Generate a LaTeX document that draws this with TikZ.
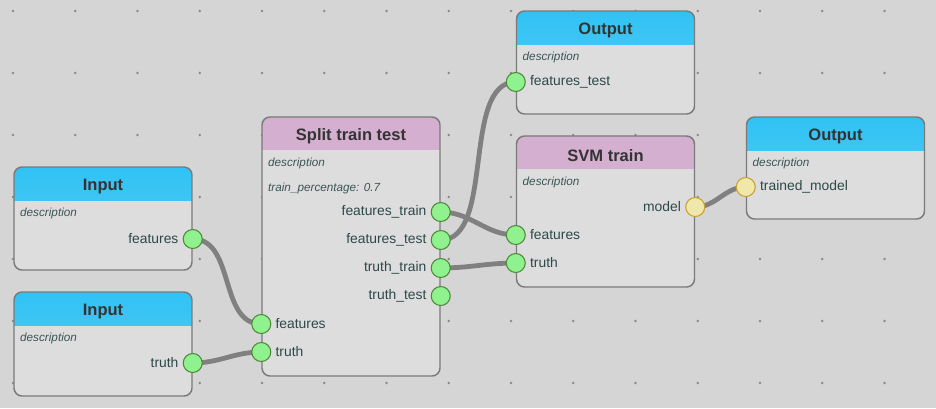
\documentclass[tikz,border=0pt]{standalone}
\usepackage{fontspec}
\setmainfont{Liberation Sans}
\usetikzlibrary{positioning,calc}
\definecolor{canvas}{HTML}{D5D5D5}
\definecolor{gridDot}{HTML}{8A8A8A}
\definecolor{boxFill}{HTML}{DDDDDD}
\definecolor{boxLine}{HTML}{7A7A7A}
\definecolor{blueTop}{HTML}{30C2F4}
\definecolor{blueBot}{HTML}{58D0F6}
\definecolor{mauve}{HTML}{D4AFD0}
\definecolor{titleTxt}{HTML}{333333}
\definecolor{portTxt}{HTML}{2E4848}
\definecolor{descTxt}{HTML}{3D5555}
\definecolor{greenFill}{HTML}{90F28E}
\definecolor{greenLine}{HTML}{4E8A3A}
\definecolor{yelFill}{HTML}{F0E8AA}
\definecolor{yelLine}{HTML}{C9A030}
\definecolor{wireC}{HTML}{808080}
\pgfdeclarelayer{grid}
\pgfdeclarelayer{wires}
\pgfsetlayers{grid,wires,main}

\begin{document}
\begin{tikzpicture}[x=0.75pt, y=-0.75pt, font=\fontsize{10.4}{12}\selectfont]
\tikzset{
  box/.style={draw=boxLine, line width=1.1pt, rounded corners=6pt, fill=boxFill, inner sep=0pt, minimum width=133.5pt},
  bluehead/.style={path picture={\shade[sharp corners, top color=blueTop, bottom color=blueBot] (path picture bounding box.north west) rectangle ([yshift=-24.75pt]path picture bounding box.north east);}},
  mauvehead/.style={path picture={\fill[sharp corners, mauve] (path picture bounding box.north west) rectangle ([yshift=-24.75pt]path picture bounding box.north east);}},
  title/.style={font=\fontsize{12.4}{14}\selectfont\bfseries, text=titleTxt, inner sep=0pt},
  desc/.style={font=\fontsize{8.8}{10}\selectfont\itshape, text=descTxt, anchor=west, inner sep=0pt},
  port/.style={circle, minimum size=14.25pt, inner sep=0pt, line width=0.8pt},
  gport/.style={port, draw=greenLine, fill=greenFill},
  yport/.style={port, draw=yelLine, fill=yelFill},
  plabel/.style={text=portTxt, inner sep=0pt},
  wire/.style={draw=wireC, line width=3.6pt}
}
% canvas and dotted grid
\begin{pgfonlayer}{grid}
\fill[canvas] (0,0) rectangle (936,408);
\foreach \i in {0,...,14}
  \foreach \j in {0,...,6}
    \fill[gridDot] (13+62.25*\i, 11+62*\j) circle (1pt);
\end{pgfonlayer}
\useasboundingbox (0,0) rectangle (936,408);

% boxes
\node[box, bluehead, minimum height=77.25pt] (in1) at (103,218.5) {};
\node[box, bluehead, minimum height=78pt] (in2) at (103,344) {};
\node[box, mauvehead, minimum height=194.25pt] (split) at (351,246.5) {};
\node[box, bluehead, minimum height=77.25pt] (out1) at (605.5,62.5) {};
\node[box, mauvehead, minimum height=113.25pt] (svm) at (605.5,211.5) {};
\node[box, bluehead, minimum height=76.5pt] (out2) at (835.5,168) {};

% titles
\foreach \n/\t in {in1/Input, in2/Input, split/Split train test, out1/Output, svm/SVM train, out2/Output}
  \node[title] (\n-title) at ([yshift=-15pt]\n.north) {\t};

% descriptions
\foreach \n in {in1,in2,split,out1,svm,out2}
  \node[desc] (\n-desc) at ([xshift=5pt,yshift=-35.25pt]\n.north west) {description};
\node[desc] (split-pct) at ([xshift=5pt,yshift=-54pt]split.north west) {train\_percentage: 0.7};

% ports
\node[gport] (in1-f) at (in1.east |- 0,239) {};
\node[plabel, left=3pt of in1-f] (in1-fl) {features};
\node[gport] (in2-t) at (in2.east |- 0,363) {};
\node[plabel, left=3pt of in2-t] (in2-tl) {truth};

\node[gport] (split-f) at (split.west |- 0,324) {};
\node[plabel, right=3pt of split-f] (split-fl) {features};
\node[gport] (split-t) at (split.west |- 0,352) {};
\node[plabel, right=3pt of split-t] (split-tl) {truth};
\node[gport] (split-ftr) at (split.east |- 0,212) {};
\node[plabel, left=3pt of split-ftr] (split-ftrl) {features\_train};
\node[gport] (split-fte) at (split.east |- 0,240) {};
\node[plabel, left=3pt of split-fte] (split-ftel) {features\_test};
\node[gport] (split-ttr) at (split.east |- 0,268) {};
\node[plabel, left=3pt of split-ttr] (split-ttrl) {truth\_train};
\node[gport] (split-tte) at (split.east |- 0,296) {};
\node[plabel, left=3pt of split-tte] (split-ttel) {truth\_test};

\node[gport] (out1-f) at (out1.west |- 0,82) {};
\node[plabel, right=3pt of out1-f] (out1-fl) {features\_test};

\node[gport] (svm-f) at (svm.west |- 0,235) {};
\node[plabel, right=3pt of svm-f] (svm-fl) {features};
\node[gport] (svm-t) at (svm.west |- 0,263) {};
\node[plabel, right=3pt of svm-t] (svm-tl) {truth};
\node[yport] (svm-m) at (svm.east |- 0,207) {};
\node[plabel, left=3pt of svm-m] (svm-ml) {model};

\node[yport] (out2-m) at (out2.west |- 0,187) {};
\node[plabel, right=3pt of out2-m] (out2-ml) {trained\_model};

% wires
\begin{pgfonlayer}{wires}
\draw[wire] (in1-f.center) to[out=0, in=180] (split-f.center);
\draw[wire] (in2-t.center) to[out=0, in=180] (split-t.center);
\draw[wire] (split-ftr.center) to[out=0, in=180] (svm-f.center);
\draw[wire] (split-fte.center) to[out=0, in=180, looseness=0.8] (out1-f.center);
\draw[wire] (split-ttr.center) to[out=0, in=180] (svm-t.center);
\draw[wire] (svm-m.center) to[out=0, in=180] (out2-m.center);
\end{pgfonlayer}
\end{tikzpicture}
\end{document}
